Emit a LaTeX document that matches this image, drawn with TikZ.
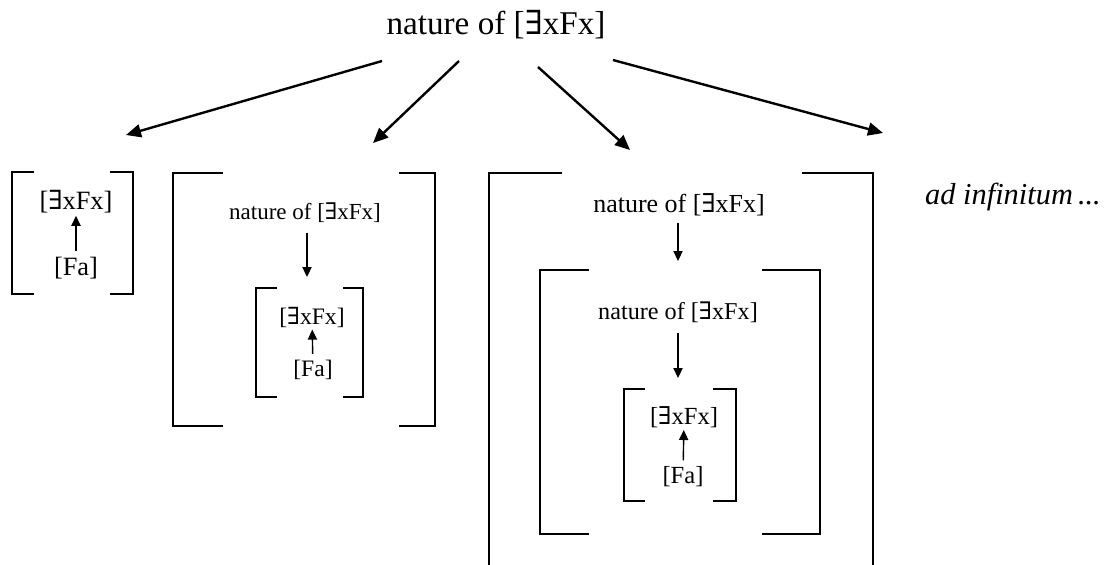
\documentclass[tikz,border=0pt]{standalone}
\usepackage{fontspec}
\setmainfont{Liberation Serif}
\newfontfamily\symfont{DejaVu Serif}
\usetikzlibrary{arrows.meta}
\newcommand{\exq}{{\symfont\char"2203}}
\newcommand{\fxf}{[\exq xFx]}
\newcommand{\fsz}[1]{\fontsize{#1}{#1}\selectfont}
\tikzset{
  lbl/.style={inner sep=1pt},
  bigarrow/.style={-{Triangle[length=7.5pt,width=6.5pt]}, line width=1.2pt},
  smallarrow/.style={-{Triangle[length=5pt,width=4.6pt]}, line width=0.7pt},
  thickbrk/.style={line width=1.4pt},
  midbrk/.style={line width=1pt},
  thinbrk/.style={line width=0.7pt}
}
% style, left, top, right, bottom, left tick, right tick
\newcommand{\brackets}[7]{%
  \draw[#1] (#2,#3) ++(#6,0) -| (#2,#5) -- ++(#6,0);
  \draw[#1] (#4,#3) ++(-#7,0) -| (#4,#5) -- ++(-#7,0);
}

\begin{document}
\begin{tikzpicture}[x=0.5pt,y=-0.5pt]
\useasboundingbox (0,0) rectangle (1112,564);

% top level
\node[lbl, font=\fsz{16.6}] (title) at (496,25) {nature of \fxf};
\coordinate (s1) at (382,61);
\coordinate (s2) at (459,61);
\coordinate (s3) at (538,67);
\coordinate (s4) at (613,60);
\coordinate (t1) at (126,135);
\coordinate (t2) at (373,143);
\coordinate (t3) at (630,150);
\coordinate (t4) at (883,133);
\draw[bigarrow] (s1) -- (t1);
\draw[bigarrow] (s2) -- (t2);
\draw[bigarrow] (s3) -- (t3);
\draw[bigarrow] (s4) -- (t4);

% first case
\brackets{midbrk}{12}{172}{133}{294}{22}{23}
\node[lbl, font=\fsz{13.2}] (ea) at (76,202) {\fxf};
\node[lbl, font=\fsz{13.2}] (fa) at (76,268) {[Fa]};
\draw[smallarrow, shorten <=2pt] (fa) -- (ea);

% second case
\brackets{thickbrk}{173}{173}{435}{426}{50}{36}
\node[lbl, font=\fsz{11.5}] (nb) at (305,213) {nature of \fxf};
\coordinate (kb) at (307,277);
\draw[smallarrow, shorten <=4pt] (kb |- nb.south) -- (kb);
\brackets{thinbrk}{256}{288}{363}{397}{21}{20}
\node[lbl, font=\fsz{11.8}] (eb) at (312,317) {\fxf};
\node[lbl, font=\fsz{11.8}] (fb) at (313,370) {[Fa]};
\draw[smallarrow, shorten <=2pt] (fb) -- (eb);

% third case
\draw[midbrk] (562,173) -| (489,566);
\draw[midbrk] (802,173) -| (873,566);
\node[lbl, font=\fsz{13}] (nc) at (679,205) {nature of \fxf};
\coordinate (kc) at (678,261);
\draw[smallarrow, shorten <=2pt] (kc |- nc.south) -- (kc);
\brackets{thickbrk}{540}{270}{820}{534}{49}{58}
\node[lbl, font=\fsz{12.1}] (nd) at (678,312) {nature of \fxf};
\coordinate (kd) at (678,378);
\draw[smallarrow, shorten <=4pt] (kd |- nd.south) -- (kd);
\brackets{thinbrk}{624}{389}{736}{501}{21}{23}
\node[lbl, font=\fsz{12.3}] (ed) at (684,417) {\fxf};
\node[lbl, font=\fsz{12.3}] (fd) at (683,477) {[Fa]};
\draw[smallarrow, shorten <=2pt] (fd) -- (ed);

\node[lbl, font=\fsz{15.2}\itshape] (adinf) at (1013,197) {ad infinitum\,...};
\end{tikzpicture}
\end{document}
